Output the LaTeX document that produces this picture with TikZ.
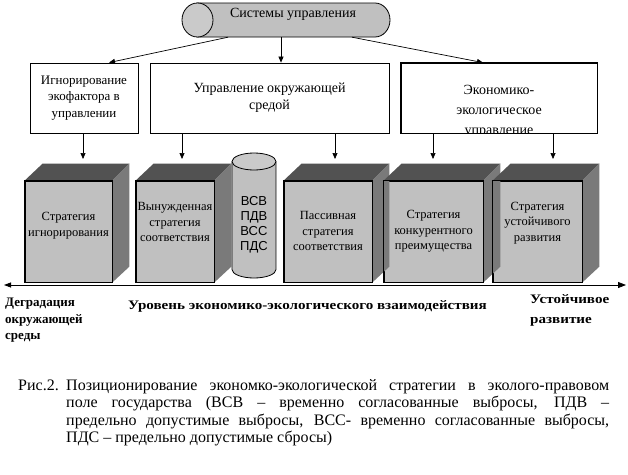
\documentclass[tikz,border=0pt]{standalone}
\usepackage{fontspec}
\usepackage{graphicx}
\setmainfont{Liberation Serif}
\newfontfamily\arialf{Liberation Sans}
\usetikzlibrary{arrows.meta,calc}
\definecolor{facegray}{HTML}{C0C0C0}
\definecolor{capgray}{HTML}{CACACA}
\definecolor{topgray}{HTML}{525252}
\definecolor{sidegray}{HTML}{7A7A7A}
\newcommand\mydrawcube[1]{%
  \fill[topgray] (#1.north west) -- ++(18,-17) -- ($(#1.north east)+(17,-17)$) -- (#1.north east) -- cycle;
  \fill[sidegray] (#1.north east) -- ++(17,-17) -- ++(0,103) -- (#1.south east) -- cycle;
  \draw[line width=0.8pt] (#1.north west) rectangle (#1.south east);
}
\newcommand\wide[1]{\scalebox{1.16}[1]{#1}}
\begin{document}
\begin{tikzpicture}[x=1pt,y=-1pt,
  box/.style={draw, fill=white, line width=0.8pt, align=center, inner sep=0pt},
  front/.style={draw, fill=facegray, line width=0.8pt, inner sep=0pt, minimum height=101pt},
  cubetext/.style={align=center, inner sep=0pt, font=\fontsize{12.5}{15.5}\selectfont},
  arr/.style={-{Triangle[length=6pt,width=5pt]}, line width=0.7pt},
  boldlab/.style={inner sep=0pt, align=left, font=\bfseries\fontsize{13}{16.5}\selectfont},
  capline/.style={inner sep=0pt, anchor=base west, font=\fontsize{16}{17.5}\selectfont}]
\useasboundingbox[fill=white] (0,0) rectangle (628,474);

% top cylinder
\filldraw[fill=facegray, line width=0.8pt] (197,3) -- (375,3) arc[start angle=90,end angle=-90,x radius=15pt,y radius=17pt] -- (197,37) -- cycle;
\filldraw[fill=capgray, line width=0.8pt] (197.5,20) ellipse[x radius=15.5pt, y radius=17pt];
\node[inner sep=0pt, minimum width=208pt, minimum height=34pt] (sys) at (286,20) {};
\node[inner sep=0pt, font=\fontsize{14}{17}\selectfont] (systxt) at (293,14) {Системы управления};

% level-1 boxes
\node[box, minimum width=108pt, minimum height=70pt, font=\fontsize{13}{16.5}\selectfont] (bA) at (84,98) {Игнорирование\\экофактора в\\управлении};
\node[box, minimum width=239pt, minimum height=70pt, font=\fontsize{14}{17}\selectfont] (bB) at (269.5,98) {Управление окружающей\\средой};
\node[box, minimum width=196pt, minimum height=70pt] (bC) at (499,98) {};
\begin{scope}
  \clip (bC.north west) rectangle (bC.south east);
  \node[inner sep=0pt, align=center, font=\fontsize{14}{20}\selectfont] (bCtxt) at (499,111) {Экономико-\\экологическое\\управление};
\end{scope}
\draw[line width=0.8pt] (bC.north west) rectangle (bC.south east);

% connectors from system cylinder
\draw[arr] ($(sys.south)+(-58,0)$) -- ($(bA.north)+(25,0)$);
\draw[arr] ($(sys.south)+(-5,0)$) -- ($(bB.north)+(11.5,0)$);
\draw[arr] ($(sys.south)+(66,0)$) -- ($(bC.north)+(-16,0)$);

% cubes
\node[front, minimum width=87pt] (k1) at (68.5,231.5) {};
\node[front, minimum width=78pt] (k2) at (175,231.5) {};
\node[front, minimum width=88pt] (k3) at (328,231.5) {};
\node[front, minimum width=99pt] (k4) at (433.5,231.5) {};
\node[front, minimum width=89pt] (k5) at (537.5,231.5) {};
\mydrawcube{k1}
\mydrawcube{k2}
\mydrawcube{k3}
\mydrawcube{k4}
\mydrawcube{k5}
\node[cubetext] (t1) at ($(k1)+(0,-6)$) {Стратегия\\игнорирования};
\node[cubetext] (t2) at ($(k2)+(0,-9.5)$) {Вынужденная\\стратегия\\соответствия};
\node[cubetext] (t3) at ($(k3)+(0,-0.5)$) {Пассивная\\стратегия\\соответствия};
\node[cubetext] (t4) at ($(k4)+(0,0)$) {Стратегия\\конкурентного\\преимущества};
\node[cubetext] (t5) at ($(k5)+(0,-8.5)$) {Стратегия\\устойчивого\\развития};

% vertical cylinder
\fill[facegray] (232,161.5) rectangle (276,269.5);
\fill[facegray] (254,269.5) ellipse[x radius=22pt, y radius=8.5pt];
\draw[line width=0.8pt] (232,161.5) -- (232,269.5) arc[start angle=180,end angle=360,x radius=22pt,y radius=8.5pt] -- (276,161.5);
\filldraw[fill=capgray, line width=0.8pt] (254,161.5) ellipse[x radius=22pt, y radius=8.5pt];
\node[inner sep=0pt, align=center, font=\arialf\fontsize{13}{15}\selectfont] (cyl) at (254,224.5) {ВСВ\\ПДВ\\ВСС\\ПДС};

% arrows to cubes
\coordinate (e1) at (83,159);
\coordinate (e2) at (182,159);
\coordinate (e3) at (335,159);
\coordinate (e4) at (433,159);
\coordinate (e5) at (553,159);
\draw[arr] (e1 |- bA.south) -- (e1);
\draw[arr] (e2 |- bB.south) -- (e2);
\draw[arr] (e3 |- bB.south) -- (e3);
\draw[arr] (e4 |- bC.south) -- (e4);
\draw[arr] (e5 |- bC.south) -- (e5);

% axis
\coordinate (axL) at (4,285);
\coordinate (axR) at (626,285);
\draw[{Triangle[length=7pt,width=5pt]}-{Triangle[length=8pt,width=6pt]}, line width=0.8pt] (axL) -- (axR);

% axis labels
\node[boldlab, anchor=west] (deg) at (5,320.5) {Деградация\\окружающей\\среды};
\node[boldlab] (lvl) at (307.5,306) {\wide{Уровень экономико-экологического взаимодействия}};
\node[boldlab, anchor=west, font=\bfseries\fontsize{13}{20}\selectfont] (ust) at (530,310) {\wide{Устойчивое}\\\wide{развитие}};

% caption
\node[capline] (cap0) at (18,390) {Рис.2.};
\node[capline] (cap1) at (66,390) {\hbox to 543pt{Позиционирование экономко-экологической стратегии в эколого-правовом}};
\node[capline] (cap2) at (66,407.5) {\hbox to 543pt{поле государства (ВСВ – временно согласованные выбросы, ПДВ –}};
\node[capline] (cap3) at (66,425) {\hbox to 543pt{предельно допустимые выбросы, ВСС- временно согласованные выбросы,}};
\node[capline] (cap4) at (66,442) {ПДС – предельно допустимые сбросы)};
\end{tikzpicture}
\end{document}
